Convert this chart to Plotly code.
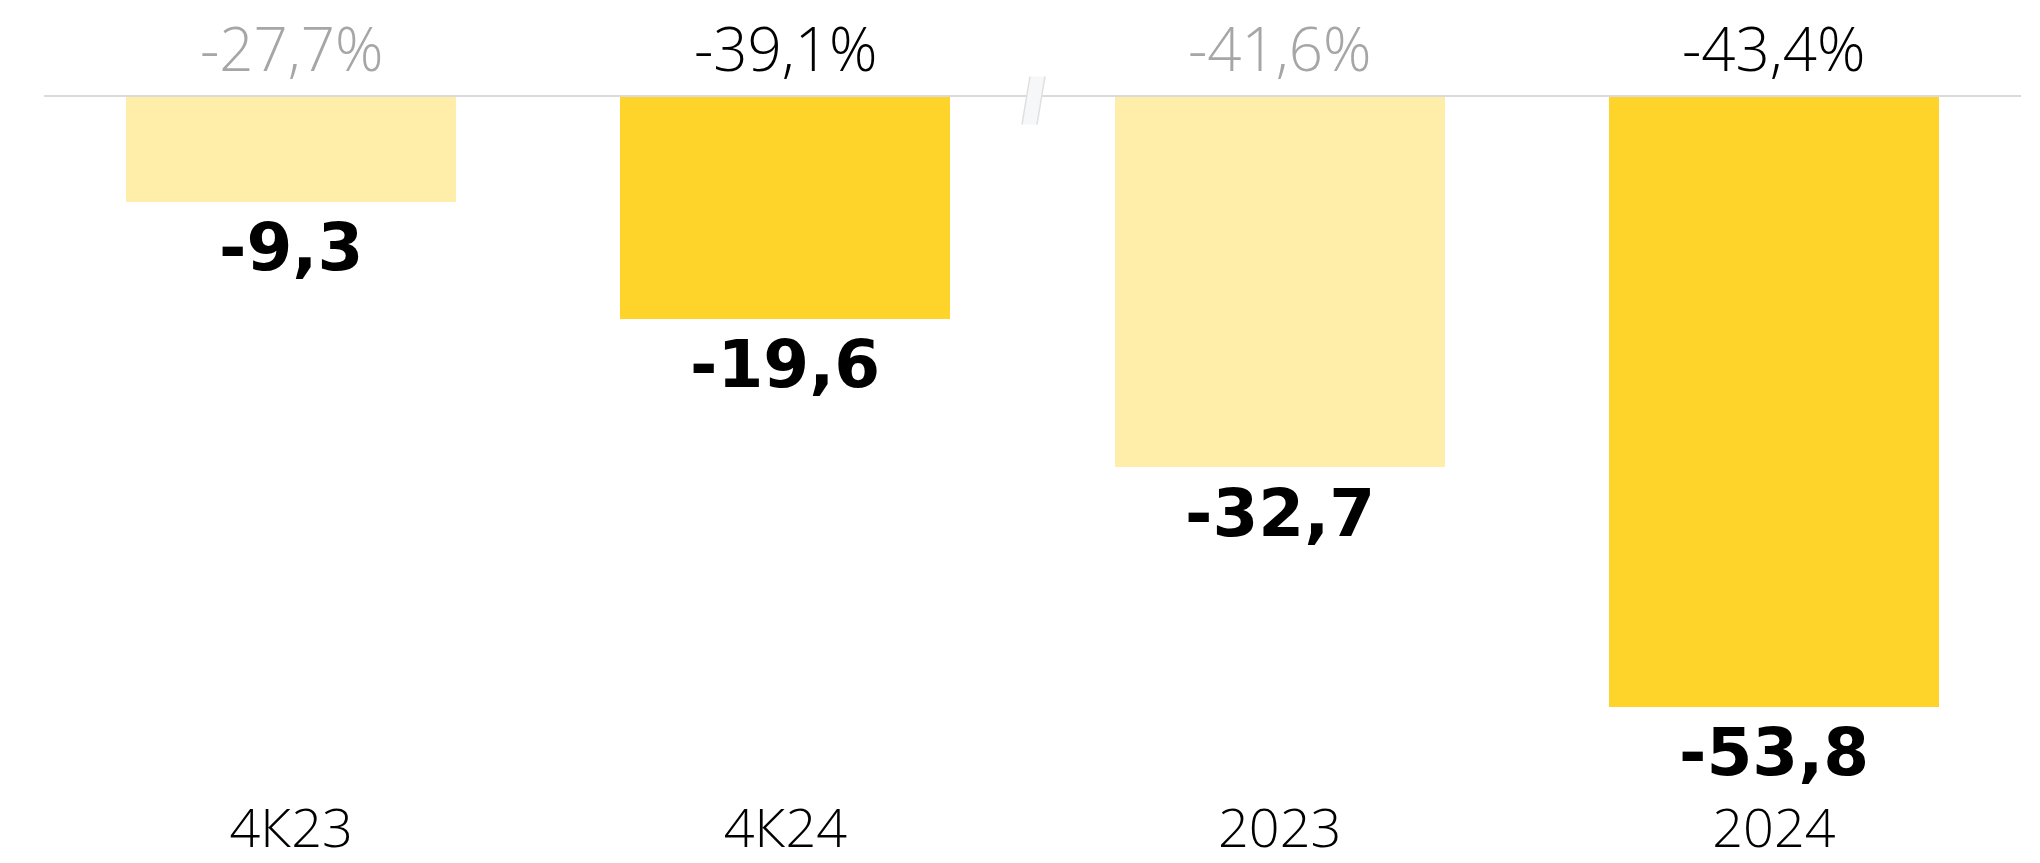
import plotly.graph_objects as go

# Net result by period, bn
categories = ["4К23", "4К24", "2023", "2024"]
values = [-9.3, -19.6, -32.7, -53.8]
changes = ["-27,7%", "-39,1%", "-41,6%", "-43,4%"]

LIGHT = "#FFEDAA"
BRIGHT = "#FED42B"
bar_colors = [LIGHT, BRIGHT, LIGHT, BRIGHT]
change_colors = ["#A6A6A6", "#000000", "#A6A6A6", "#000000"]

LIGHT_FONT = "Open Sans, Roboto, Liberation Sans, sans-serif"
BOLD_FONT = "DejaVu Sans, Verdana, sans-serif"


def fmt(v):
    return f"{v:.1f}".replace(".", ",")


fig = go.Figure(
    go.Bar(
        x=categories,
        y=values,
        marker=dict(color=bar_colors, line=dict(width=0)),
        width=0.668,
        hoverinfo="skip",
    )
)

# category positions on the axis are 0..n-1
annotations = []
for i, v in enumerate(values):
    annotations.append(dict(
        x=i, y=v, xref="x", yref="y",
        text=fmt(v), showarrow=False,
        yanchor="middle", yshift=-46,
        font=dict(family=BOLD_FONT, size=66, color="#000000", weight=700),
    ))
for i, (txt, col) in enumerate(zip(changes, change_colors)):
    annotations.append(dict(
        x=i, y=0, xref="x", yref="y",
        text=txt, showarrow=False,
        yanchor="middle", yshift=48,
        font=dict(family=LIGHT_FONT, size=60, color=col, weight=300),
    ))

shapes = [
    # zero line across the top
    dict(type="line", xref="paper", yref="paper", x0=0, x1=1, y0=1, y1=1,
         line=dict(color="#DADADA", width=2), layer="above"),
    # axis break between quarterly and annual bars
    dict(type="path", xref="x", yref="paper",
         xsizemode="pixel", ysizemode="pixel", xanchor=1.5, yanchor=1,
         path="M -2.5,19.5 L 12.5,19.5 L 4.5,-28.5 L -10.5,-28.5 Z",
         fillcolor="#F6F7F9", line=dict(width=0), layer="above"),
]
for top_x, bot_x in ((-2.5, -10.5), (12.5, 4.5)):
    shapes.append(dict(
        type="line", xref="x", yref="paper",
        xsizemode="pixel", ysizemode="pixel", xanchor=1.5, yanchor=1,
        x0=top_x, x1=bot_x, y0=19.5, y1=-28.5,
        line=dict(color="#DFDFDF", width=1.5), layer="above",
    ))

fig.update_layout(
    width=2040, height=863,
    margin=dict(l=44, r=19, t=96, b=80),
    paper_bgcolor="white", plot_bgcolor="white",
    showlegend=False,
    bargap=0,
    annotations=annotations,
    shapes=shapes,
    xaxis=dict(
        type="category", range=[-0.5, 3.5], automargin=False,
        showgrid=False, zeroline=False, showline=False, ticks="",
        tickfont=dict(family=LIGHT_FONT, size=54, color="#000000", weight=300),
        ticklabelstandoff=9,
    ),
    yaxis=dict(
        range=[-60.5, 0], visible=False, automargin=False,
        showgrid=False, zeroline=False,
    ),
)

fig.write_html("out.html")
